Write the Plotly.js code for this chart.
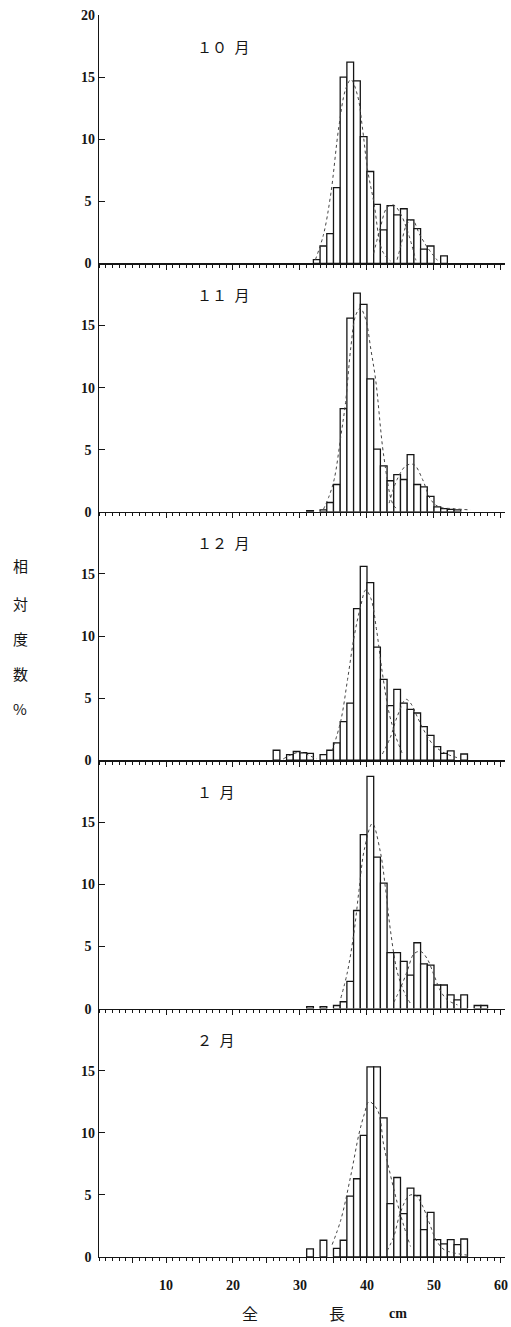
<!DOCTYPE html>
<html>
<head>
<meta charset="utf-8">
<script src="https://cdn.plot.ly/plotly-3.0.1.min.js"></script>
<style>html,body{margin:0;padding:0;background:#fff;}#chart{width:511px;height:1327px;}</style>
</head>
<body>
<div id="chart"></div>
<script>
// ---- data (bin lower edge in cm, relative frequency %) ----
const monthLabels = ['１０\u2002月', '１１\u2002月', '１２\u2002月', '１\u2002月', '２\u2002月'];

const octLen = [32,33,34,35,36,37,38,39,40,41,42,43,44,45,46,47,48,49,51];
const octPct = [0.3,1.4,2.4,6.1,15.0,16.2,14.7,10.2,7.4,4.75,2.7,4.65,3.9,4.4,3.5,2.8,1.15,1.4,0.6];

const novLen = [31,33,34,35,36,37,38,39,40,41,42,43,44,45,46,47,48,49,50,51,52,53];
const novPct = [0.1,0.15,0.75,2.2,8.3,15.6,17.6,16.7,10.7,5.05,3.7,2.5,3.0,2.6,4.6,2.2,2.0,1.25,0.4,0.25,0.2,0.15];

const decLen = [26,28,29,30,31,33,34,35,36,37,38,39,40,41,42,43,44,45,46,47,48,49,50,51,52,54];
const decPct = [0.8,0.45,0.7,0.6,0.55,0.45,0.8,1.4,3.1,4.6,12.2,15.6,14.3,9.1,6.5,4.4,5.7,4.6,4.1,3.8,2.7,2.0,1.1,0.55,0.75,0.5];

const janLen = [31,33,35,36,37,38,39,40,41,42,43,44,45,46,47,48,49,50,51,52,53,54,56,57];
const janPct = [0.15,0.15,0.25,0.55,2.2,7.9,14.0,18.7,12.2,10.1,4.5,4.5,3.8,2.7,5.3,3.6,3.5,1.9,1.9,1.1,0.7,1.1,0.25,0.25];

const febLen = [31,33,35,36,37,38,39,40,41,42,43,44,45,46,47,48,49,50,51,52,53,54];
const febPct = [0.65,1.35,0.7,1.35,4.9,6.3,9.8,15.3,15.3,11.2,4.3,6.4,3.5,5.55,4.95,2.2,3.6,1.4,1.05,1.4,1.0,1.45];

// ---- fitted component curves ----
const octFit1X = [32.3,33.5,34.6,35.8,36.8,37.6,38.6,39.3,40.1,41.0,42.3,43.5];
const octFit1Y = [0.3,2.3,5.6,11.0,14.0,14.8,13.5,11.0,7.5,5.0,1.0,0.2];
const octFit2X = [41.0,42.0,43.0,44.0,45.0,46.0,47.3];
const octFit2Y = [0.8,2.9,4.5,4.7,4.0,2.7,0.25];
const octFit3X = [44.5,45.0,46.0,46.8,47.8,49.0,50.5];
const octFit3Y = [0.3,1.3,3.2,3.5,2.4,1.3,0.25];

const novFit1X = [33.5,34.3,35.1,36.1,36.8,37.6,38.3,39.0,39.8,40.6,41.3,42.5,43.8,44.5];
const novFit1Y = [0.2,1.2,2.6,6.1,8.8,13.3,15.8,16.4,15.5,13.0,10.6,4.5,0.7,0.2];
const novFit2X = [43.3,44.5,45.8,47.0,48.3,49.5,50.7,53.0,55.5];
const novFit2Y = [0.7,2.6,3.7,3.8,2.6,1.0,0.4,0.25,0.15];

const decFit0X = [27.5,28.5,29.5,30.5,31.5,32.5];
const decFit0Y = [0.1,0.4,0.6,0.6,0.35,0.1];
const decFit1X = [34.8,36.1,37.1,38.1,39.1,39.8,40.6,41.4,42.3,43.3,44.3,45.3];
const decFit1Y = [0.75,3.2,6.5,10.0,12.5,13.7,13.0,10.6,7.0,3.8,1.9,0.5];
const decFit2X = [42.3,43.5,44.5,45.8,46.5,47.5,48.5,49.8,51.5,53.5];
const decFit2Y = [0.5,1.85,3.5,4.9,4.6,3.5,2.4,1.3,0.6,0.2];

const janFit1X = [36.1,37.1,38.1,38.8,39.6,40.8,42.0,42.8,43.5,44.5,45.5,46.5];
const janFit1Y = [0.85,3.0,6.3,9.5,12.8,14.9,12.6,9.5,6.3,3.0,1.4,0.4];
const janFit2X = [44.0,45.0,46.0,47.0,48.0,49.0,50.0,51.0,52.0,53.5];
const janFit2Y = [0.5,1.65,3.0,4.4,4.6,4.0,2.7,1.4,0.7,0.3];

const febFit1X = [34.8,36.1,37.6,38.8,39.6,40.3,41.6,42.5,43.5,44.5,45.5,46.5];
const febFit1Y = [1.0,3.0,6.6,9.9,11.5,12.5,11.8,9.0,6.6,4.4,2.5,0.85];
const febFit2X = [43.0,44.0,45.0,46.3,47.3,48.3,49.3,50.3,51.5,55.0];
const febFit2Y = [0.5,1.65,3.6,4.95,4.95,4.1,2.75,1.4,0.6,0.15];

const xTickVals = [5,10,15,20,25,30,35,40,45,50,55,60];
const xTickText = ['','10','','20','','30','','40','','50','','60'];
const yTickVals = [0,5,10,15,20];
const yTickTextTop = ['0\u00a0','5\u00a0','10','15','20'];
const yTickText = ['0\u00a0','5\u00a0','10','15',''];
const yTitleChars = ['相','対','度','数','%'];
const xTitleParts = ['全','長','cm'];

// ---- build ----
const INK = '#151515';
const panels = [
  {len: octLen, pct: octPct, fits: [[octFit1X,octFit1Y],[octFit2X,octFit2Y],[octFit3X,octFit3Y]]},
  {len: novLen, pct: novPct, fits: [[novFit1X,novFit1Y],[novFit2X,novFit2Y]]},
  {len: decLen, pct: decPct, fits: [[decFit0X,decFit0Y],[decFit1X,decFit1Y],[decFit2X,decFit2Y]]},
  {len: janLen, pct: janPct, fits: [[janFit1X,janFit1Y],[janFit2X,janFit2Y]]},
  {len: febLen, pct: febPct, fits: [[febFit1X,febFit1Y],[febFit2X,febFit2Y]]}
];

const traces = [];
const layout = {
  width: 511, height: 1327,
  margin: {l: 99, r: 6, t: 15, b: 70},
  paper_bgcolor: '#fff', plot_bgcolor: 'rgba(0,0,0,0)',
  showlegend: false,
  font: {family: 'Liberation Serif, serif', color: INK},
  annotations: []
};
const tickFont = {family: 'Liberation Serif, serif', size: 14, weight: 'bold', color: INK};

panels.forEach((p, i) => {
  const n = i + 1;
  const xa = 'x' + (n === 1 ? '' : n), ya = 'y' + (n === 1 ? '' : n);
  traces.push({
    type: 'bar', x: p.len, y: p.pct, width: 1, offset: 0,
    xaxis: xa, yaxis: ya,
    marker: {color: '#fff', line: {color: INK, width: 1.3}},
    hoverinfo: 'skip'
  });
  p.fits.forEach(f => {
    traces.push({
      type: 'scatter', mode: 'lines', x: f[0], y: f[1],
      xaxis: xa, yaxis: ya,
      line: {color: '#444', width: 1, dash: 'dot', shape: 'spline'},
      hoverinfo: 'skip'
    });
  });
  const top = 1 - i / 5, bot = 1 - (i + 1) / 5;
  const isBottom = (i === 4);
  layout['xaxis' + (n === 1 ? '' : n)] = {
    domain: [0, 1], anchor: ya, range: [0, 60.6],
    showline: true, linecolor: INK, linewidth: 1.3,
    showgrid: false, zeroline: false,
    tickmode: 'array', tickvals: xTickVals, ticktext: xTickText,
    ticks: 'outside', ticklen: 5, tickwidth: 1, tickcolor: INK,
    minor: {tickmode: 'linear', tick0: 0, dtick: 1, ticks: 'outside', ticklen: 3, tickwidth: 1, tickcolor: INK},
    showticklabels: isBottom, tickfont: tickFont, ticklabelstandoff: 10,
    fixedrange: true
  };
  layout['yaxis' + (n === 1 ? '' : n)] = {
    domain: [bot, top], anchor: xa, range: [0, 20],
    showline: true, linecolor: INK, linewidth: 1.3,
    showgrid: false, zeroline: false,
    tickmode: 'array', tickvals: yTickVals, ticktext: (i === 0 ? yTickTextTop : yTickText),
    ticks: 'inside', ticklen: 6, tickwidth: 1, tickcolor: INK,
    tickfont: tickFont, fixedrange: true
  };
  layout.annotations.push({
    xref: xa, yref: ya, x: 14.3, y: 17.5, xanchor: 'left', yanchor: 'middle',
    text: monthLabels[i], showarrow: false,
    font: {family: 'Noto Sans CJK JP', size: 15, color: INK}
  });
});

// y-axis title, stacked vertically
const yCharPix = [565, 603, 638, 673, 708];
yTitleChars.forEach((c, k) => {
  layout.annotations.push({
    xref: 'paper', yref: 'paper', x: (20 - 99) / 406, y: (1257 - yCharPix[k]) / 1242,
    xanchor: 'center', yanchor: 'middle', text: c, showarrow: false,
    font: {family: 'Noto Sans CJK JP', size: 15, color: INK}
  });
});
// x-axis title
const xPartPix = [250, 337, 398];
xTitleParts.forEach((c, k) => {
  layout.annotations.push({
    xref: 'paper', yref: 'paper', x: (xPartPix[k] - 99) / 406, y: (1257 - 1313) / 1242,
    xanchor: 'center', yanchor: 'middle', text: c, showarrow: false,
    font: {family: (k === 2 ? 'Liberation Serif' : 'Noto Sans CJK JP'), size: (k === 2 ? 14 : 16), weight: (k === 2 ? 'bold' : 'normal'), color: INK}
  });
});

Plotly.newPlot('chart', traces, layout, {staticPlot: true, displayModeBar: false});
</script>
</body>
</html>
